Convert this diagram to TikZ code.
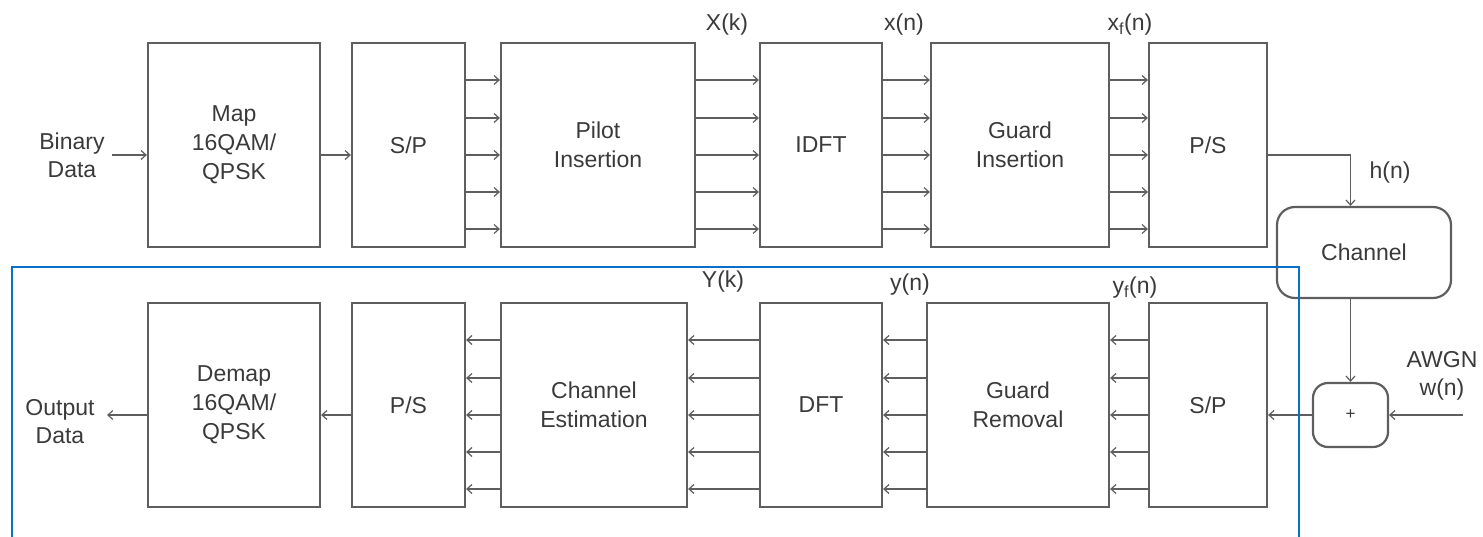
\documentclass[tikz,border=0pt]{standalone}
\usepackage{fontspec}
\setmainfont{Liberation Sans}
\usetikzlibrary{arrows.meta}
\definecolor{txt}{HTML}{3A3A3A}
\definecolor{ln}{HTML}{5E5E5E}
\definecolor{frameblue}{HTML}{0A6FC8}
\begin{document}
\begin{tikzpicture}[x=1pt,y=-1pt,
  blk/.style={draw=ln,line width=2.2pt,inner sep=0pt,minimum height=204pt,text=txt,align=center,
    font=\fontsize{23}{29}\selectfont},
  rblk/.style={blk,rounded corners=18pt},
  lbl/.style={text=txt,align=center,inner sep=1pt,font=\fontsize{23}{28}\selectfont},
  arr/.style={draw=ln,line width=1.8pt,-{Straight Barb[length=5pt,width=9pt,line width=1.2pt]}},
  ln/.style={draw=ln,line width=1.8pt}]
\useasboundingbox (0,0) rectangle (1483,537);
% top row
\node[blk,minimum width=172pt] (map) at (234,145) {Map\\16QAM/\\QPSK};
\node[blk,minimum width=113pt] (sp1) at (408.5,145) {S/P};
\node[blk,minimum width=194pt] (pilot) at (598,145) {Pilot\\Insertion};
\node[blk,minimum width=122pt] (idft) at (821,145) {IDFT};
\node[blk,minimum width=178pt] (gins) at (1020,145) {Guard\\Insertion};
\node[blk,minimum width=118pt] (ps1) at (1208,145) {P/S};
% bottom row
\node[blk,minimum width=172pt] (demap) at (234,405) {Demap\\16QAM/\\QPSK};
\node[blk,minimum width=113pt] (ps2) at (408.5,405) {P/S};
\node[blk,minimum width=186pt] (chest) at (594,405) {Channel\\Estimation};
\node[blk,minimum width=122pt] (dft) at (821,405) {DFT};
\node[blk,minimum width=182pt] (grem) at (1018,405) {Guard\\Removal};
\node[blk,minimum width=118pt] (sp2) at (1208,405) {S/P};
% channel and adder
\node[rblk,minimum width=174pt,minimum height=91pt] (chan) at (1364,252.5) {Channel};
\node[rblk,rounded corners=15pt,minimum width=75pt,minimum height=64pt,font=\fontsize{17}{18}\selectfont] (plus) at (1350.5,415) {+};
% labels
\node[lbl] (bin) at (72,155) {Binary\\Data};
\node[lbl] (out) at (60,422) {Output\\Data};
\node[lbl] (Xk) at (727,25) {X(k)};
\node[lbl] (xn) at (904,25) {x(n)};
\node[lbl] (xfn) at (1130,25) {x\textsubscript{f}(n)};
\node[lbl] (Yk) at (723,282) {Y(k)};
\node[lbl] (yn) at (910,285) {y(n)};
\node[lbl] (yfn) at (1135,288) {y\textsubscript{f}(n)};
\node[lbl] (hn) at (1390,173) {h(n)};
\node[lbl] (awgn) at (1442,376) {AWGN\\w(n)};
\coordinate (binend) at (112,155);
\coordinate (outend) at (107,415);
\coordinate (awgnstart) at (1463,415);
% single connectors
\draw[arr] (binend) -- (map.west |- binend);
\draw[arr] ([yshift=-10pt]map.east) -- ([yshift=-10pt]sp1.west);
\draw[arr] ([yshift=-10pt]demap.west) -- (outend);
\draw[arr] ([yshift=-10pt]ps2.west) -- ([yshift=-10pt]demap.east);
\draw[arr] ([yshift=-10pt]ps1.east) -| (chan.north -| plus.north);
\draw[arr] (chan.south -| plus.north) -- (plus.north);
\draw[arr] (awgnstart) -- (plus.east |- awgnstart);
\draw[arr] (plus.west) -- (sp2.east |- plus.west);
% parallel connectors
\foreach \d in {65,27,-10,-47,-84}{
  \draw[arr] ([yshift=\d pt]sp1.east) -- ([yshift=\d pt]pilot.west);
  \draw[arr] ([yshift=\d pt]pilot.east) -- ([yshift=\d pt]idft.west);
  \draw[arr] ([yshift=\d pt]idft.east) -- ([yshift=\d pt]gins.west);
  \draw[arr] ([yshift=\d pt]gins.east) -- ([yshift=\d pt]ps1.west);
  \draw[arr] ([yshift=\d pt]sp2.west) -- ([yshift=\d pt]grem.east);
  \draw[arr] ([yshift=\d pt]grem.west) -- ([yshift=\d pt]dft.east);
  \draw[arr] ([yshift=\d pt]dft.west) -- ([yshift=\d pt]chest.east);
  \draw[arr] ([yshift=\d pt]chest.west) -- ([yshift=\d pt]ps2.east);
}
% blue frame
\draw[frameblue,line width=2.4pt] (12,540) -- (12,267) -- (1299,267) -- (1299,540);
\end{tikzpicture}
\end{document}
